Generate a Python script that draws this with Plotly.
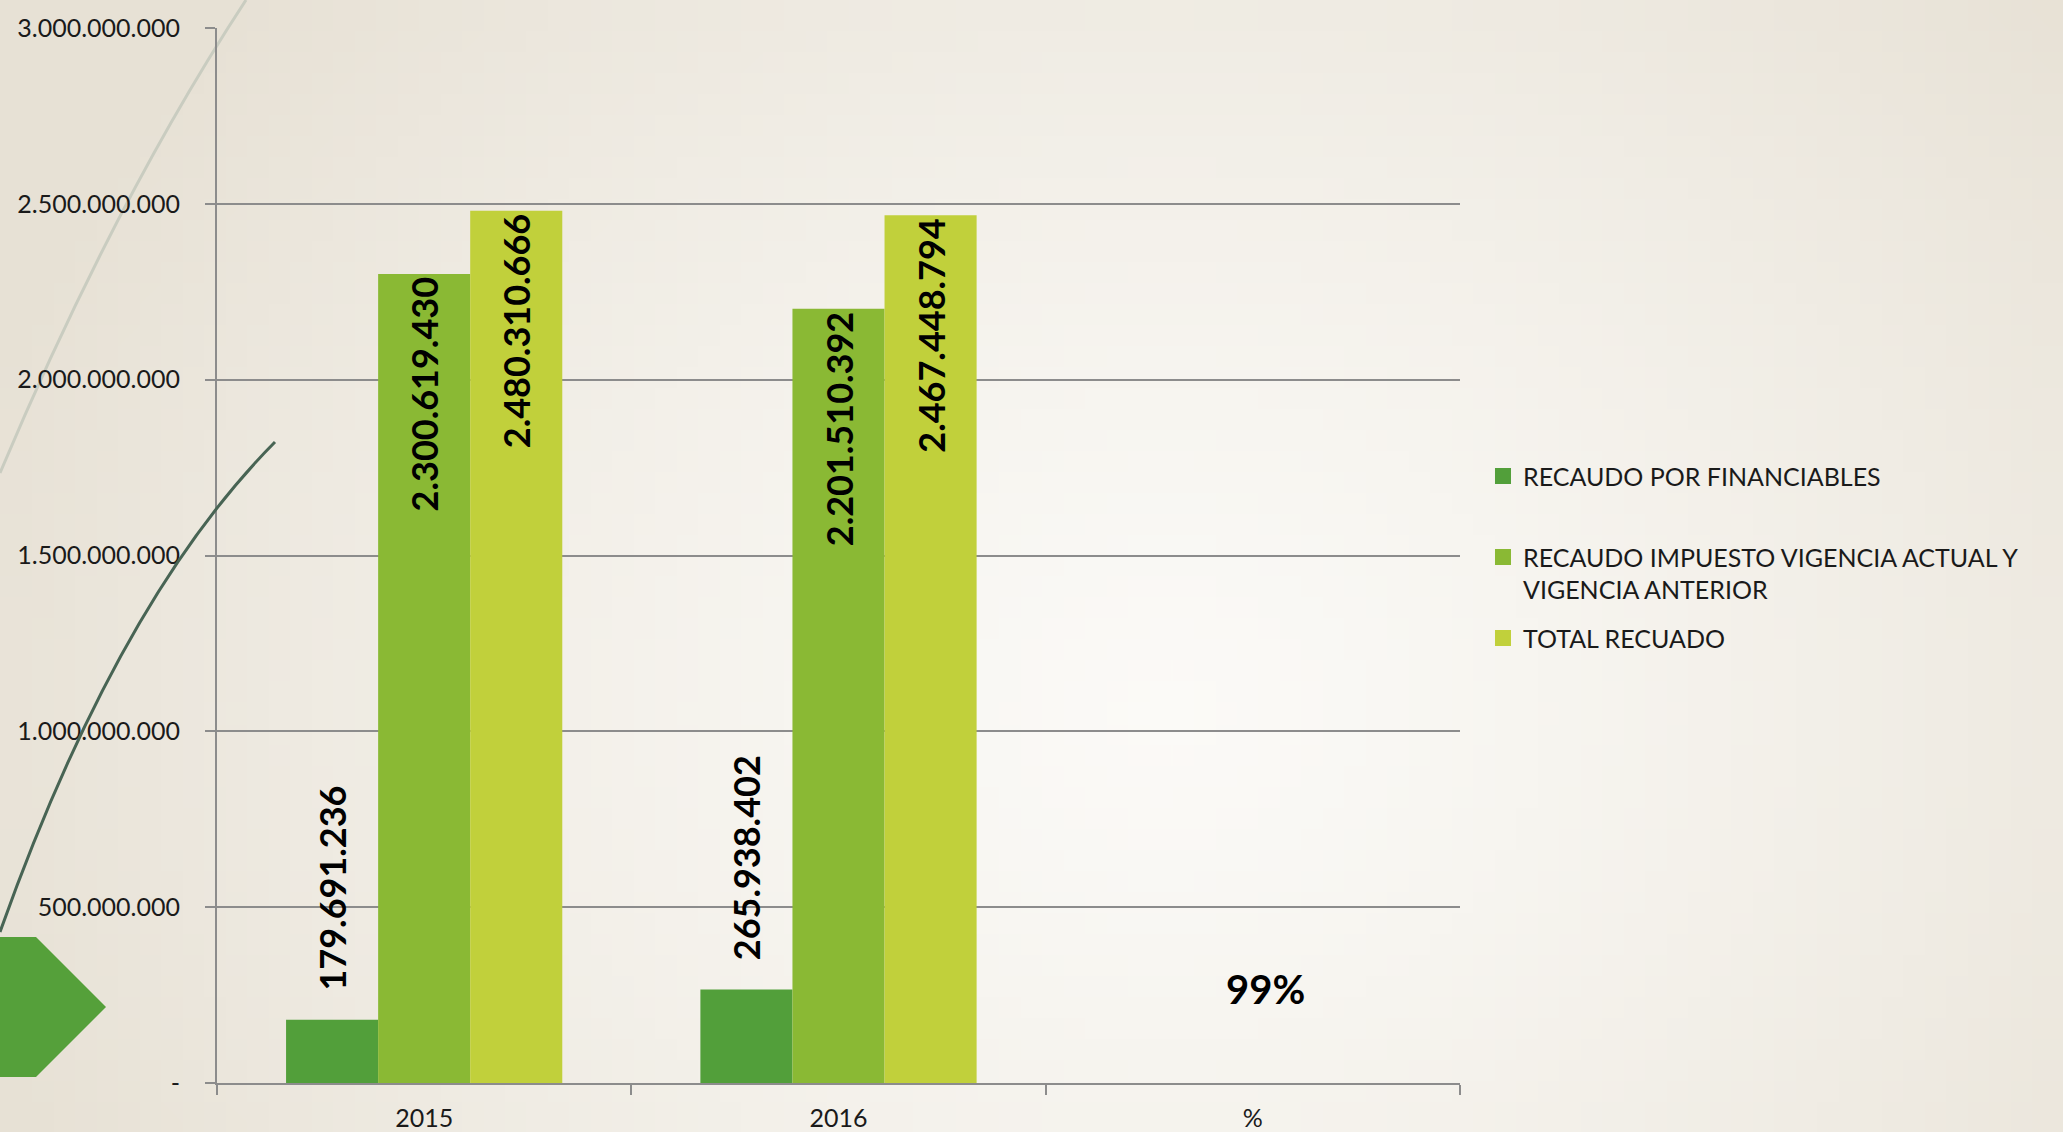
import base64
import math
import struct
import zlib

import plotly.graph_objects as go

# ---------------- data ----------------
categories = ["2015", "2016", "%"]
series_names = [
    "RECAUDO POR FINANCIABLES",
    "RECAUDO IMPUESTO VIGENCIA ACTUAL Y<br>VIGENCIA ANTERIOR",
    "TOTAL RECUADO",
]
recaudo_financiables = [179691236, 265938402, None]
recaudo_impuesto = [2300619430, 2201510392, None]
total_recaudo = [2480310666, 2467448794, None]
percent_label = "99%"

y_tickvals = [0, 500000000, 1000000000, 1500000000, 2000000000, 2500000000, 3000000000]
y_ticktext = ["-", "500.000.000", "1.000.000.000", "1.500.000.000",
              "2.000.000.000", "2.500.000.000", "3.000.000.000"]

# ---------------- style ----------------
W, H = 2063, 1132
ML, MR, MT, MB = 217, 603, 28, 49
PW, PH = W - ML - MR, H - MT - MB
colors = ["#529f3a", "#8ab934", "#c1d03b"]
FONT = "Lato"


def px2paper(x, y):
    return (x - ML) / PW, (H - MB - y) / PH


def make_gradient_png(w, h):
    c0 = (251, 250, 247)
    c1 = (231, 225, 213)
    cx, cy, rx, ry = 0.56 * w, 0.62 * h, 0.60 * w, 0.95 * h
    rows = []
    for j in range(h):
        row = bytearray([0])
        for i in range(w):
            t = math.sqrt(((i - cx) / rx) ** 2 + ((j - cy) / ry) ** 2)
            t = min(1.0, t) ** 1.3
            for k in range(3):
                row.append(int(round(c0[k] + (c1[k] - c0[k]) * t)))
        rows.append(bytes(row))
    raw = b"".join(rows)

    def chunk(tag, data):
        return (struct.pack(">I", len(data)) + tag + data
                + struct.pack(">I", zlib.crc32(tag + data) & 0xFFFFFFFF))

    png = (b"\x89PNG\r\n\x1a\n"
           + chunk(b"IHDR", struct.pack(">IIBBBBB", w, h, 8, 2, 0, 0, 0))
           + chunk(b"IDAT", zlib.compress(raw))
           + chunk(b"IEND", b""))
    return "data:image/png;base64," + base64.b64encode(png).decode()


fig = go.Figure()

label_font = dict(family=FONT, size=36, color="black", weight="bold")
values = [recaudo_financiables, recaudo_impuesto, total_recaudo]
for idx, (name, vals, col) in enumerate(zip(series_names, values, colors)):
    outside = idx == 0
    fig.add_trace(go.Bar(
        x=categories,
        y=vals,
        name=name.replace("<br>", " "),
        showlegend=False,
        legendgroup=f"g{idx}",
        marker=dict(color=col, line=dict(width=0)),
        texttemplate=("\u00a0\u00a0\u00a0" if outside else "") + "%{y:,.0f}",
        textposition="outside" if outside else "inside",
        insidetextanchor="end",
        textangle=-90,
        constraintext="none",
        cliponaxis=False,
        textfont=label_font,
        insidetextfont=label_font,
        outsidetextfont=label_font,
        hoverinfo="skip",
    ))

# legend entries with square swatches (same series, same colours)
for idx, (name, col) in enumerate(zip(series_names, colors)):
    fig.add_trace(go.Scatter(
        x=[None], y=[None], mode="markers",
        name=name + ("<br>\u00a0" if idx == 0 else ""),
        legendgroup=f"g{idx}",
        marker=dict(symbol="square", size=16, color=col, line=dict(width=0)),
        hoverinfo="skip",
    ))

# decorative slide elements
p = lambda x, y: "%.5f,%.5f" % px2paper(x, y)
shapes = [
    dict(type="path", xref="paper", yref="paper",
         path=f"M {p(246, 0)} Q {p(115, 200)} {p(0, 473)}",
         line=dict(color="#c9ccc0", width=3), layer="below"),
    dict(type="path", xref="paper", yref="paper",
         path=f"M {p(275, 442)} Q {p(118, 600)} {p(0, 932)}",
         line=dict(color="#486454", width=3), layer="above"),
    dict(type="path", xref="paper", yref="paper",
         path=(f"M {p(0, 937)} L {p(36, 937)} L {p(106, 1007)} "
               f"L {p(36, 1077)} L {p(0, 1077)} Z"),
         fillcolor="#55a03a", line=dict(width=0), layer="above"),
]

x0, ytop = px2paper(0, 0)
x1, ybot = px2paper(W, H)

fig.update_layout(
    width=W, height=H, autosize=False,
    margin=dict(l=ML, r=MR, t=MT, b=MB, pad=0, autoexpand=False),
    paper_bgcolor="#efebe3",
    plot_bgcolor="rgba(0,0,0,0)",
    separators=",.",
    barmode="group",
    bargap=1 / 3,
    bargroupgap=0,
    hovermode=False,
    font=dict(family=FONT, size=25, color="#1a1a1a"),
    showlegend=True,
    legend=dict(
        x=1.0185, xanchor="left",
        y=0.597, yanchor="top",
        traceorder="grouped",
        tracegroupgap=13,
        valign="top",
        bgcolor="rgba(0,0,0,0)",
        font=dict(family=FONT, size=25, color="#1a1a1a"),
    ),
    xaxis=dict(
        type="category",
        categoryorder="array", categoryarray=categories,
        automargin=False,
        showline=True, linecolor="#8c8c8c", linewidth=2,
        ticks="outside", tickson="boundaries", ticklen=10,
        tickcolor="#8c8c8c", tickwidth=2,
        ticklabelstandoff=12,
        showgrid=False,
        tickfont=dict(family=FONT, size=25, color="#1a1a1a"),
    ),
    yaxis=dict(
        range=[0, 3000000000],
        automargin=False,
        tickvals=y_tickvals, ticktext=y_ticktext,
        showline=True, linecolor="#8c8c8c", linewidth=2,
        ticks="outside", ticklen=10, tickcolor="#8c8c8c", tickwidth=2,
        ticklabelstandoff=20,
        showgrid=True, gridcolor="#8c8c8c", gridwidth=2,
        zeroline=False,
        tickfont=dict(family=FONT, size=25, color="#1a1a1a"),
    ),
    shapes=shapes,
    images=[dict(
        source=make_gradient_png(96, 54),
        xref="paper", yref="paper",
        x=x0, y=ytop, sizex=x1 - x0, sizey=ytop - ybot,
        xanchor="left", yanchor="top",
        sizing="stretch", layer="below",
    )],
    annotations=[dict(
        x="%", xref="x", y=0.089, yref="paper",
        xanchor="center", yanchor="middle",
        text=f"<b>{percent_label}</b>", showarrow=False,
        xshift=13,
        font=dict(family=FONT, size=40, color="black"),
    )],
)

fig.write_html(
    "out.html",
    config={"displayModeBar": False},
    post_script="document.body.style.margin='0';",
)
